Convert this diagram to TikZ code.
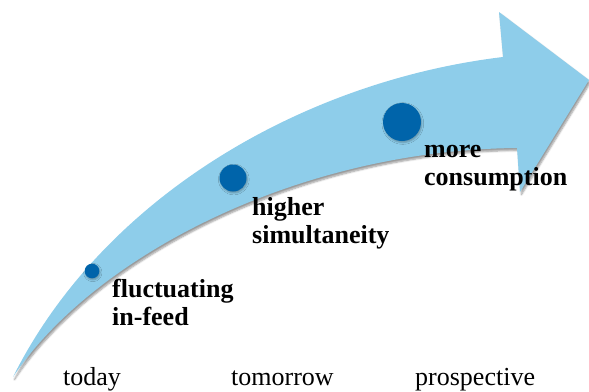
\documentclass[tikz,border=0pt]{standalone}
\usepackage{fontspec}
\setmainfont{Liberation Serif}
\usetikzlibrary{shadows,shadows.blur}
\definecolor{bandblue}{RGB}{142,205,234}
\definecolor{dotblue}{RGB}{0,100,170}
\tikzset{
  band/.style={fill=bandblue, draw=none,
    blur shadow={shadow xshift=1.5pt, shadow yshift=-2.5pt, shadow blur steps=6, shadow opacity=40}},
  milestone/.style={circle, fill=dotblue, inner sep=0pt, minimum size=#1,
    blur shadow={shadow xshift=0.8pt, shadow yshift=-1.5pt, shadow blur steps=4, shadow opacity=30}},
  % multi-line labels: the base anchor sits on the last line
  stage/.style={font=\fontsize{26}{28}\selectfont\bfseries, align=left, anchor=base west, inner sep=0pt},
  period/.style={font=\fontsize{26}{28}\selectfont, anchor=base west, inner sep=0pt}
}
\begin{document}
\begin{tikzpicture}[x=1pt,y=-1pt]
  \useasboundingbox (0,0) rectangle (589,391);
  % curved arrow
  \path[band] (13,377) .. controls (103,197) and (303,81) .. (503,57)
      -- (499,12) -- (589,80) -- (520,192) -- (517,148)
      .. controls (297,150) and (93,257) .. (13,377) -- cycle;
  % milestones on the arrow
  \node[milestone=14.6pt] (d1) at (92,271) {};
  \node[milestone=27pt] (d2) at (233,178) {};
  \node[milestone=38pt] (d3) at (402,122) {};
  % stage labels
  \node[stage] (s1) at (112,325) {fluctuating\\in-feed};
  \node[stage] (s2) at (252,243) {higher\\simultaneity};
  \node[stage] (s3) at (424,185) {more\\consumption};
  % time axis labels
  \node[period] (p1) at (63,385) {today};
  \node[period] (p2) at (231,385) {tomorrow};
  \node[period] (p3) at (415,385) {prospective};
\end{tikzpicture}
\end{document}
